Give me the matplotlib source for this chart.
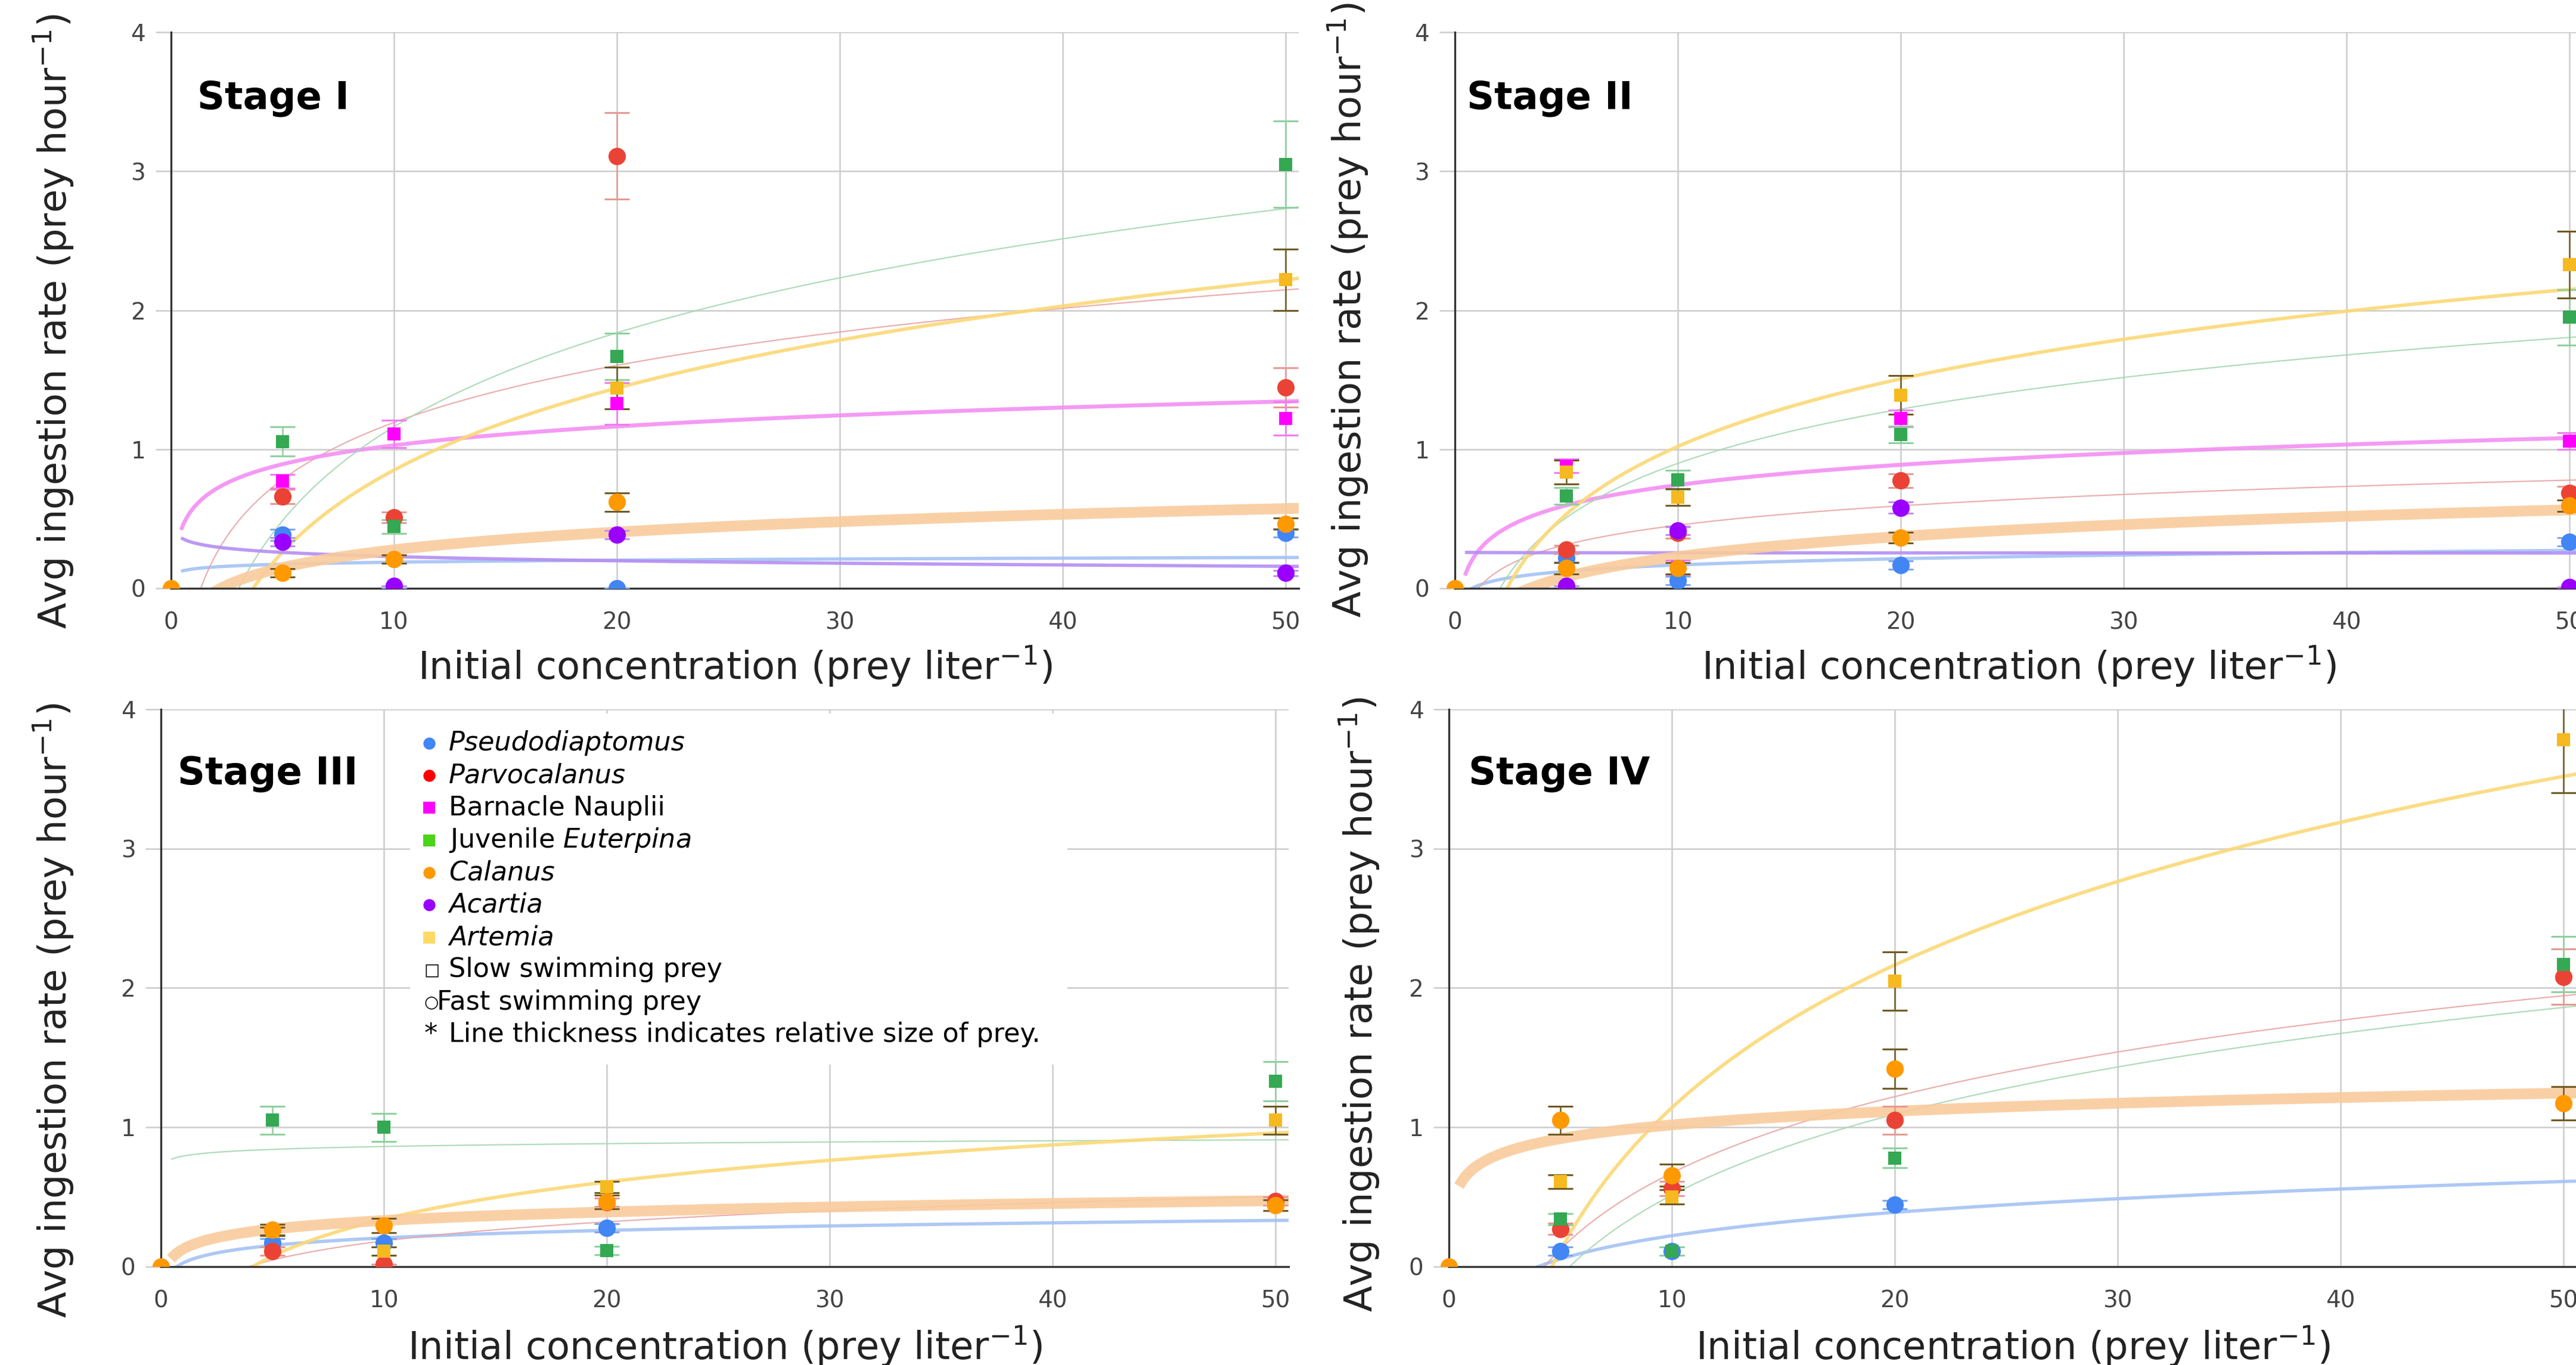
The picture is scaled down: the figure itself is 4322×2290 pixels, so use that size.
import numpy as np
import matplotlib.pyplot as plt
from matplotlib.patches import Rectangle

nan = np.nan

# ==============================
#  Data (prey offered: 5, 10, 20, 50 per liter), one row per stage I..IV
# ==============================
conc = np.array([5, 10, 20, 50])
stages = ["Stage I", "Stage II", "Stage III", "Stage IV"]

pseudo = [[0.385, 0.0, 0.0, 0.40], [0.22, 0.054, 0.168, 0.334],
          [0.17, 0.17, 0.278, nan], [0.11, 0.11, 0.445, nan]]
pseudo_err = [[0.04, 0.0, 0.0, 0.03], [0.03, 0.03, 0.03, 0.03],
              [0.03, 0.03, 0.03, 0.0], [0.03, 0.03, 0.03, 0.0]]

parvo = [[0.66, 0.51, 3.11, 1.445], [0.28, 0.40, 0.775, 0.685],
         [0.11, 0.015, 0.46, 0.47], [0.27, 0.56, 1.05, 2.08]]
parvo_err = [[0.05, 0.04, 0.31, 0.14], [0.03, 0.04, 0.05, 0.05],
             [0.03, 0.0, 0.03, 0.03], [0.04, 0.05, 0.1, 0.2]]

barnacle = [[0.77, 1.11, 1.33, 1.22], [0.88, 0.15, 1.22, 1.06],
            [nan, nan, nan, nan], [nan, nan, nan, nan]]
barnacle_err = [[0.05, 0.1, 0.15, 0.12], [0.05, 0.05, 0.06, 0.06],
                [0, 0, 0, 0], [0, 0, 0, 0]]

euterpina = [[1.055, 0.445, 1.667, 3.05], [0.664, 0.78, 1.106, 1.95],
             [1.05, 1.0, 0.115, 1.33], [0.34, 0.11, 0.78, 2.17]]
euterpina_err = [[0.105, 0.05, 0.167, 0.31], [0.06, 0.07, 0.06, 0.2],
                 [0.1, 0.1, 0.03, 0.14], [0.04, 0.03, 0.07, 0.2]]

artemia = [[nan, nan, 1.44, 2.22], [0.835, 0.655, 1.39, 2.33],
           [0.25, 0.11, 0.571, 1.05], [0.61, 0.5, 2.05, 3.78]]
artemia_err = [[0, 0, 0.15, 0.22], [0.085, 0.06, 0.14, 0.24],
               [0.03, 0.03, 0.04, 0.1], [0.05, 0.05, 0.21, 0.38]]

acartia = [[0.333, 0.015, 0.385, 0.11], [0.015, 0.415, 0.58, 0.01],
           [nan, nan, nan, nan], [nan, nan, nan, nan]]
acartia_err = [[0.03, 0.0, 0.03, 0.02], [0.0, 0.03, 0.04, 0.0],
               [0, 0, 0, 0], [0, 0, 0, 0]]

calanus = [[0.11, 0.21, 0.62, 0.464], [0.145, 0.145, 0.364, 0.595],
           [0.265, 0.295, 0.464, 0.44], [1.05, 0.655, 1.42, 1.17]]
calanus_err = [[0.03, 0.03, 0.065, 0.04], [0.04, 0.04, 0.04, 0.04],
               [0.04, 0.05, 0.05, 0.04], [0.1, 0.08, 0.14, 0.12]]
calanus_at_zero = [0.0, 0.0, 0.0, 0.0]

# draw order matters: later species sit on top
species = [
    # values, errors, marker, marker colour, error colour, trend colour, trend width
    (pseudo, pseudo_err, "o", "#4285f4", "#7fa6ee", "#a4c2f4", 2.0),
    (parvo, parvo_err, "o", "#ea4335", "#e59a94", "#e8a7a7", 0.8),
    (barnacle, barnacle_err, "s", "#ff00ff", "#f27cf2", "#f38ff3", 2.4),
    (euterpina, euterpina_err, "s", "#34a853", "#8fd0a0", "#a6d8b3", 0.8),
    (artemia, artemia_err, "s", "#f6b91f", "#6f5a22", "#fbd977", 2.1),
    (acartia, acartia_err, "o", "#9900ff", "#c08cf5", "#b48ef2", 2.0),
    (calanus, calanus_err, "o", "#ff9900", "#6f5a22", "#f9cb9c", 6.5),
]

legend_items = [
    ("o", "#4285f4", "Pseudodiaptomus", "italic"),
    ("o", "#ff0000", "Parvocalanus", "italic"),
    ("s", "#ff00ff", "Barnacle Nauplii", "normal"),
    ("s", "#4cd418", "Juvenile $\\it{Euterpina}$", "normal"),
    ("o", "#ff9900", "Calanus", "italic"),
    ("o", "#9900ff", "Acartia", "italic"),
    ("s", "#ffd966", "Artemia", "italic"),
]

# ==============================
#  Layout
# ==============================
fig = plt.figure(figsize=(21.61, 11.45), dpi=200)
fig.patch.set_facecolor("white")

axes_rects = [
    [0.0664, 0.569, 0.4378, 0.4074],
    [0.5648, 0.569, 0.4378, 0.4074],
    [0.0625, 0.0721, 0.4378, 0.4083],
    [0.5625, 0.0721, 0.4378, 0.4083],
]
ylabel_pos = [(-0.0846, 0.48), (-0.075, 0.50), (-0.0756, 0.46), (-0.0597, 0.47)]
xlabel_y = [-0.10, -0.10, -0.103, -0.103]
title_pos = [(0.023, 0.881), (0.0106, 0.881), (0.0148, 0.884), (0.0174, 0.884)]

x_trend = np.linspace(0.45, 50.6, 400)

for i, rect in enumerate(axes_rects):
    ax = fig.add_axes(rect)
    ax.set_xlim(0, 50.6)
    ax.set_ylim(0, 4)
    ax.set_xticks([0, 10, 20, 30, 40, 50])
    ax.set_yticks([0, 1, 2, 3, 4])
    ax.grid(True, color="#cccccc", lw=0.9, zorder=0)
    ax.set_axisbelow(True)
    for s in ["top", "right"]:
        ax.spines[s].set_visible(False)
    for s in ["left", "bottom"]:
        ax.spines[s].set_color("#333333")
        ax.spines[s].set_linewidth(1.2)
    ax.tick_params(axis="y", length=9.4, width=0.9, color="#cccccc",
                   labelsize=14, labelcolor="#444444", pad=6)
    ax.tick_params(axis="x", length=0, labelsize=14, labelcolor="#444444", pad=14)
    ax.yaxis.get_major_ticks()[0].tick1line.set_color("#333333")

    # trend lines (log fit through the observed points)
    for vals, errs, mk, mcol, ecol, lcol, lw in species:
        y = np.array(vals[i], dtype=float)
        ok = ~np.isnan(y)
        if ok.sum() < 2:
            continue
        a, b = np.polyfit(np.log(conc[ok]), y[ok], 1)
        ax.plot(x_trend, a * np.log(x_trend) + b, color=lcol, lw=lw,
                alpha=0.9, solid_capstyle="butt", zorder=2)

    # points with error bars
    for vals, errs, mk, mcol, ecol, lcol, lw in species:
        y = np.array(vals[i], dtype=float)
        if np.isnan(y).all():
            continue
        ax.errorbar(conc, y, yerr=errs[i], fmt="none", ecolor=ecol,
                    elinewidth=0.9, capsize=7.5, capthick=1.1, zorder=3)
        ax.plot(conc, y, ls="none", marker=mk, color=mcol,
                ms=10.5 if mk == "o" else 8, mew=0, zorder=4)
    # control point at the origin: only the upper half shows above the axis
    ax.plot([0], [calanus_at_zero[i]], ls="none", marker="o", color="#ff9900",
            fillstyle="top", markerfacecoloralt="none", ms=10.5, mew=0,
            clip_on=False, zorder=4)

    ax.text(title_pos[i][0], title_pos[i][1], stages[i], transform=ax.transAxes,
            fontsize=23, fontweight="bold", ha="left", va="center", zorder=6)

    ax.set_ylabel("Avg ingestion rate (prey hour$^{\\mathregular{-1}}$)", fontsize=23,
                  color="#222222")
    ax.yaxis.set_label_coords(*ylabel_pos[i])
    ax.set_xlabel("Initial concentration (prey liter$^{\\mathregular{-1}}$)", fontsize=23,
                  color="#222222")
    ax.xaxis.set_label_coords(0.5, xlabel_y[i])

    # legend panel drawn inside Stage III
    if i == 2:
        ax.add_patch(Rectangle((0.221, 0.3626), 0.583, 0.63, transform=ax.transAxes,
                               facecolor="white", edgecolor="none", zorder=5))
        y0 = (2125 - 1247) / 935
        step = 54.3 / 935
        for k, (mk, col, label, style) in enumerate(legend_items):
            yy = y0 - k * step
            ax.plot([0.2378], [yy], transform=ax.transAxes, ls="none", marker=mk,
                    color=col, ms=7.3, mew=0, clip_on=False, zorder=6)
            ax.text(0.2553, yy, label, transform=ax.transAxes, fontsize=16,
                    style=style, ha="left", va="center", zorder=6)
        yy = y0 - 7 * step
        ax.text(0.2331, yy, "\u25a1", transform=ax.transAxes, fontsize=10,
                ha="left", va="center", zorder=6)
        ax.text(0.2553, yy, "Slow swimming prey", transform=ax.transAxes,
                fontsize=16, ha="left", va="center", zorder=6)
        yy = y0 - 8 * step
        ax.text(0.2331, yy, "\u25cb", transform=ax.transAxes, fontsize=10,
                ha="left", va="center", zorder=6)
        ax.text(0.2447, yy, "Fast swimming prey", transform=ax.transAxes,
                fontsize=16, ha="left", va="center", zorder=6)
        yy = y0 - 9 * step
        ax.text(0.2331, yy, "*", transform=ax.transAxes, fontsize=16,
                ha="left", va="center", zorder=6)
        ax.text(0.2553, yy, "Line thickness indicates relative size of prey.",
                transform=ax.transAxes, fontsize=16, ha="left", va="center", zorder=6)

fig.savefig("out.png", dpi=200, facecolor="white")
